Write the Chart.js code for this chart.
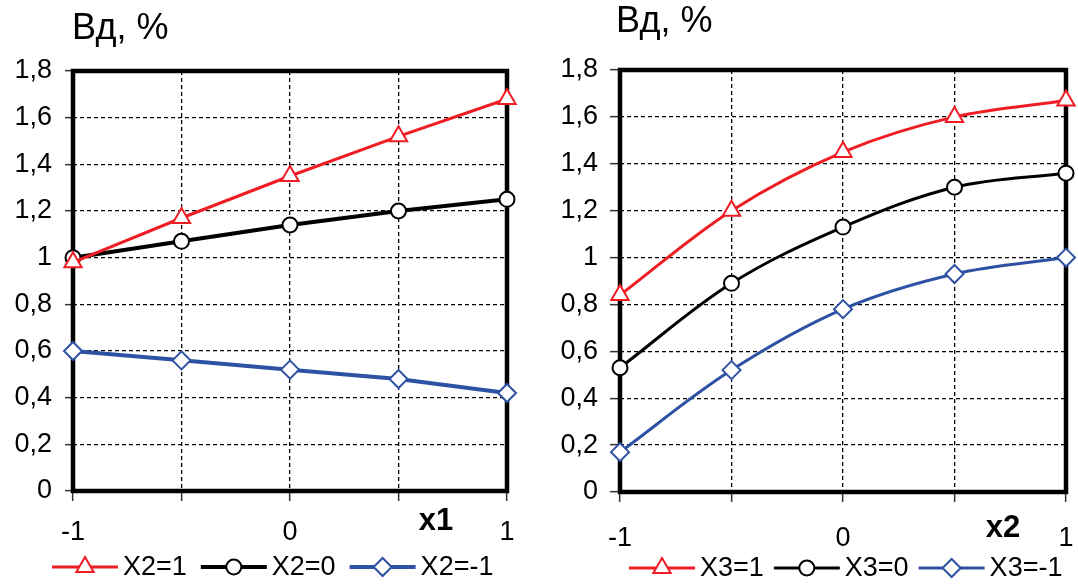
<!DOCTYPE html>
<html>
<head>
<meta charset="utf-8">
<script src="https://cdn.jsdelivr.net/npm/chart.js@4.4.1/dist/chart.umd.min.js"></script>
<style>
  body { margin: 0; background: #fff; }
  #wrap { position: relative; width: 1078px; height: 584px; }
  canvas { position: absolute; top: 0; }
  #chartX1 { left: 0; }
  #chartX2 { left: 540px; }
</style>
</head>
<body>
<div id="wrap">
  <canvas id="chartX1" width="540" height="584"></canvas>
  <canvas id="chartX2" width="538" height="584"></canvas>
</div>
<script>
const FONT = "'Liberation Sans', Arial, sans-serif";

// axis levels and tick labels
const xLevels = [-1, -0.5, 0, 0.5, 1];
const xTickLabels = ['-1', '', '0', '', '1'];
const yTicks = [0, 0.2, 0.4, 0.6, 0.8, 1, 1.2, 1.4, 1.6, 1.8];
const yTickLabels = ['0', '0,2', '0,4', '0,6', '0,8', '1', '1,2', '1,4', '1,6', '1,8'];

// left chart: Вд vs x1
const vdX2Plus = [0.98, 1.17, 1.35, 1.52, 1.68];
const vdX2Zero = [1.00, 1.07, 1.14, 1.20, 1.25];
const vdX2Minus = [0.60, 0.56, 0.52, 0.48, 0.42];
const legendX2 = ['X2=1', 'X2=0', 'X2=-1'];

// right chart: Вд vs x2
const vdX3Plus = [0.84, 1.20, 1.45, 1.60, 1.67];
const vdX3Zero = [0.53, 0.89, 1.13, 1.30, 1.36];
const vdX3Minus = [0.17, 0.52, 0.78, 0.93, 1.00];
const legendX3 = ['X3=1', 'X3=0', 'X3=-1'];

const RED = '#ee1d23', BLACK = '#000000', BLUE = '#2e52a3';

function series(label, values, color, style, radius, width, tension) {
  return {
    label: label,
    data: values.map((v, i) => ({ x: xLevels[i], y: v })),
    borderColor: color,
    backgroundColor: '#fff',
    borderWidth: width,
    pointStyle: style,
    pointRadius: radius,
    pointBorderWidth: 2,
    pointBackgroundColor: '#fff',
    pointBorderColor: color,
    tension: tension,
    clip: false
  };
}

// frame, title, axis name and legend (line + marker)
const decor = {
  id: 'decor',
  beforeDatasetsDraw(chart) {
    const a = chart.chartArea, ctx = chart.ctx;
    ctx.save();
    ctx.lineWidth = 4.5;
    ctx.strokeStyle = '#000';
    ctx.strokeRect(a.left, a.top, a.right - a.left, a.bottom - a.top);
    ctx.restore();
  },
  afterDraw(chart, args, opts) {
    const ctx = chart.ctx;
    ctx.save();
    ctx.fillStyle = '#000';
    ctx.textBaseline = 'alphabetic';
    ctx.font = '36px ' + FONT;
    ctx.fillText(opts.title, opts.titleX, opts.titleY);
    ctx.font = 'bold 31px ' + FONT;
    ctx.textAlign = 'center';
    ctx.fillText(opts.axisLabel, opts.axisX, opts.axisY);

    ctx.textAlign = 'left';
    ctx.textBaseline = 'middle';
    ctx.font = '27px ' + FONT;
    let x = opts.legendX;
    const y = opts.legendY;
    chart.data.datasets.forEach(ds => {
      ctx.strokeStyle = ds.borderColor;
      ctx.lineWidth = ds.borderWidth;
      ctx.beginPath();
      ctx.moveTo(x, y);
      ctx.lineTo(x + 66, y);
      ctx.stroke();
      ctx.fillStyle = '#fff';
      ctx.lineWidth = ds.pointBorderWidth;
      Chart.helpers.drawPoint(ctx, { pointStyle: ds.pointStyle, radius: ds.pointRadius, borderWidth: ds.pointBorderWidth, rotation: 0 }, x + 33, y);
      ctx.fillStyle = '#000';
      ctx.fillText(ds.label, x + 71, y + 1);
      x += 71 + ctx.measureText(ds.label).width + opts.legendGap;
    });
    ctx.restore();
  }
};

function makeChart(id, datasets, lay) {
  const canvas = document.getElementById(id);
  const H = canvas.height;
  return new Chart(canvas, {
    type: 'line',
    data: { datasets: datasets },
    options: {
      responsive: false,
      animation: false,
      layout: { padding: { left: 0, top: lay.top, right: canvas.width - lay.right, bottom: 0 } },
      plugins: {
        legend: { display: false },
        tooltip: { enabled: false },
        decor: lay.decor
      },
      scales: {
        x: {
          type: 'linear',
          min: -1,
          max: 1,
          afterBuildTicks: s => { s.ticks = xLevels.map(v => ({ value: v })); },
          afterFit: s => {
            s.height = H - lay.bottom;
            s.paddingLeft = 0;
            s.paddingRight = 0;
          },
          ticks: {
            callback: (v, i) => xTickLabels[i],
            color: '#000',
            font: { family: FONT, size: 27 },
            padding: lay.xPad,
            maxRotation: 0,
            autoSkip: false
          },
          grid: { color: '#000', lineWidth: 1.3, tickLength: 10, tickColor: '#333', tickWidth: 1.5 },
          border: { display: false, dash: [4, 3] }
        },
        y: {
          min: 0,
          max: 1.8,
          afterBuildTicks: s => { s.ticks = yTicks.map(v => ({ value: v })); },
          afterFit: s => {
            s.width = lay.left;
            s.paddingTop = 0;
            s.paddingBottom = 0;
          },
          ticks: {
            callback: (v, i) => yTickLabels[i],
            color: '#000',
            font: { family: FONT, size: 27 },
            padding: lay.yPad,
            autoSkip: false
          },
          grid: { color: '#000', lineWidth: 1.3, tickLength: lay.yTick, tickColor: '#333', tickWidth: 1.5 },
          border: { display: false, dash: [4, 3] }
        }
      }
    },
    plugins: [decor]
  });
}

makeChart('chartX1', [
  series(legendX2[0], vdX2Plus, RED, 'triangle', 10, 3, 0),
  series(legendX2[1], vdX2Zero, BLACK, 'circle', 7.5, 4, 0),
  series(legendX2[2], vdX2Minus, BLUE, 'rectRot', 9, 4, 0)
], {
  left: 73, right: 507, top: 71, bottom: 491, xPad: 15, yPad: 13, yTick: 8,
  decor: { title: 'Вд, %', titleX: 72, titleY: 39, axisLabel: 'x1', axisX: 436, axisY: 530, legendX: 52, legendY: 567, legendGap: 14 }
});

makeChart('chartX2', [
  series(legendX3[0], vdX3Plus, RED, 'triangle', 10, 3, 0.35),
  series(legendX3[1], vdX3Zero, BLACK, 'circle', 7.5, 3, 0.35),
  series(legendX3[2], vdX3Minus, BLUE, 'rectRot', 9, 3, 0.35)
], {
  left: 80, right: 527, top: 70, bottom: 492, xPad: 20, yPad: 12, yTick: 10,
  decor: { title: 'Вд, %', titleX: 76, titleY: 32, axisLabel: 'x2', axisX: 463, axisY: 537, legendX: 89, legendY: 568, legendGap: 10 }
});
</script>
</body>
</html>
